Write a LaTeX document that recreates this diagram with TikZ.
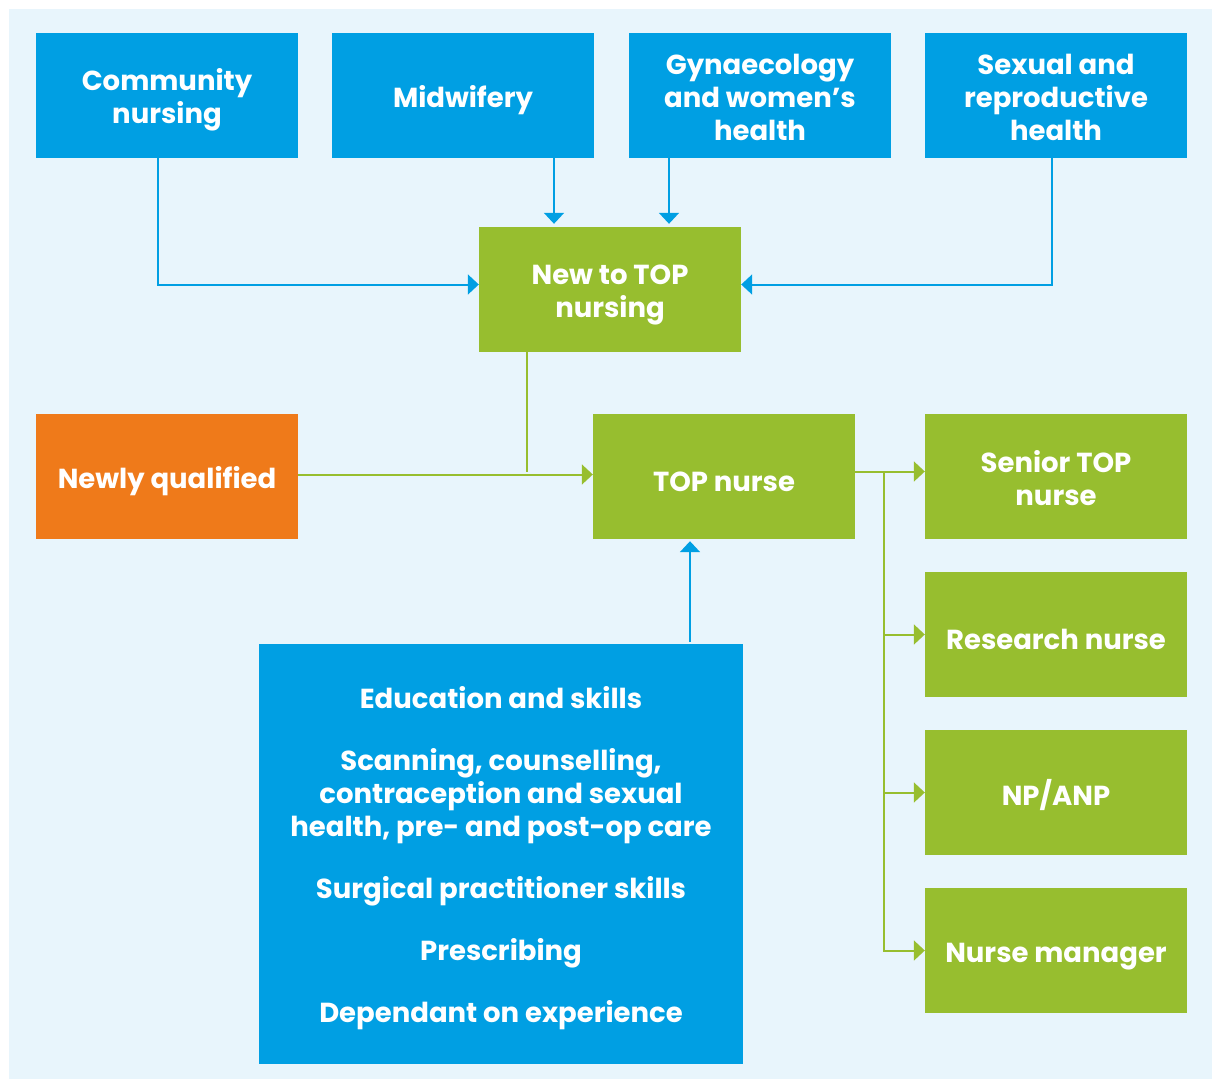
\documentclass[tikz,border=0pt]{standalone}
\usepackage{fontspec}
\setmainfont{Poppins}
\usetikzlibrary{arrows.meta,positioning,calc}
\definecolor{bgblue}{HTML}{E8F5FC}
\definecolor{boxblue}{HTML}{009FE3}
\definecolor{boxgreen}{HTML}{97BE2F}
\definecolor{boxorange}{HTML}{EF7A1A}
\newcommand\liftline[1][31pt]{\rule{0pt}{#1}}
\begin{document}
\begin{tikzpicture}[x=1pt,y=-1pt,
  box/.style={minimum width=262pt,minimum height=125pt,inner sep=0pt,text=white,
    font=\fontsize{27.5}{33}\selectfont\bfseries,align=center},
  bluebox/.style={box,fill=boxblue},
  greenbox/.style={box,fill=boxgreen},
  orangebox/.style={box,fill=boxorange},
  barr/.style={draw=boxblue,line width=2pt,-{Triangle[length=11pt,width=20pt]}},
  garr/.style={draw=boxgreen,line width=2pt,-{Triangle[length=11pt,width=20pt]}},
  gline/.style={draw=boxgreen,line width=2pt}]
\useasboundingbox (0,0) rectangle (1212,1079);
\fill[bgblue] (9,9) rectangle (1212,1079);
\node[bluebox] (comm) at (167,95.5) {\liftline Community\\nursing};
\node[bluebox] (mid) at (463,95.5) {\liftline Midwifery};
\node[bluebox] (gyn) at (760,95.5) {\liftline[25pt]Gynaecology\\and women’s\\health};
\node[bluebox] (sex) at (1056,95.5) {\liftline[25pt]Sexual and\\reproductive\\health};
\node[greenbox] (newtop) at (610,289.5) {\liftline New to TOP\\nursing};
\node[orangebox] (newly) at (167,476.5) {\liftline Newly qualified};
\node[greenbox] (top) at (724,476.5) {\liftline TOP nurse};
\node[greenbox] (senior) at (1056,476.5) {\liftline[25pt]Senior TOP\\nurse};
\node[greenbox] (research) at (1056,634.5) {\liftline Research nurse};
\node[greenbox] (np) at (1056,792.5) {\liftline NP/ANP};
\node[greenbox] (manager) at (1056,950.5) {\liftline Nurse manager};
\node[box,fill=boxblue,minimum width=484pt,minimum height=420pt] (big) at (501,854)
  {\liftline Education and skills\\[29pt]Scanning, counselling,\\contraception and sexual\\health, pre- and post-op care\\[29pt]Surgical practitioner skills\\[29pt]Prescribing\\[29pt]Dependant on experience};
% blue connectors
\draw[barr] ([xshift=-9pt]comm.south) |- ([yshift=5pt]newtop.west);
\draw[barr] ([xshift=91pt]mid.south) -- ([xshift=91pt,yshift=3pt]mid.south |- newtop.north);
\draw[barr] ([xshift=-91pt]gyn.south) -- ([xshift=-91pt,yshift=3pt]gyn.south |- newtop.north);
\draw[barr] ([xshift=-4pt]sex.south) |- ([yshift=5pt]newtop.east);
\draw[barr] ([xshift=189pt,yshift=2pt]big.north) -- ([xshift=189pt,yshift=-2pt]big.north |- top.south);
% green connectors
\draw[gline] ([xshift=-83pt]newtop.south) -- ([xshift=-83pt,yshift=5pt]newtop.south |- newly.east);
\draw[garr] ([yshift=2pt]newly.east) -- ([yshift=2pt]top.west);
\coordinate (br) at ([xshift=29pt,yshift=5pt]top.east);
\draw[garr] ([yshift=5pt]top.east) -- ([yshift=5pt]senior.west);
\draw[garr] (br) |- (research.west);
\draw[garr] (br) |- (np.west);
\draw[garr] (br) |- (manager.west);
\end{tikzpicture}
\end{document}
